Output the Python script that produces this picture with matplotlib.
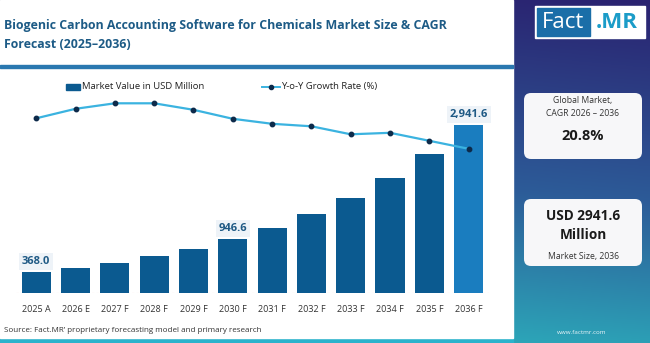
import numpy as np
import matplotlib.pyplot as plt
from matplotlib.patches import Rectangle, FancyBboxPatch
from matplotlib.colors import to_rgb

years = ["2025 A", "2026 E", "2027 F", "2028 F", "2029 F", "2030 F",
         "2031 F", "2032 F", "2033 F", "2034 F", "2035 F", "2036 F"]
market_value = [368.0, 431.0, 520.0, 641.0, 771.0, 946.6,
                1138.0, 1378.0, 1664.0, 2014.0, 2439.0, 2941.6]
yoy_growth = [19.0, 20.9, 22.0, 22.0, 20.7, 18.9,
              17.9, 17.4, 15.8, 16.1, 14.5, 12.9]
labelled = {0: "368.0", 5: "946.6", 11: "2,941.6"}

W, H = 650, 343
FONT = "Open Sans"
BAR = "#0b5a90"
BAR_LAST = "#1a7dbf"
LINE = "#3bb3e0"
MARK = "#0d2a4a"
TITLE_C = "#1d5b86"

fig = plt.figure(figsize=(W / 100, H / 100), dpi=100)

# background in pixel coordinates
bg = fig.add_axes([0, 0, 1, 1])
bg.set_xlim(0, W)
bg.set_ylim(H, 0)
bg.axis("off")

# gradient: navy/purple at top, teal at bottom
ny, nx = 200, 200
yy, xx = np.mgrid[0:1:ny * 1j, 0:1:nx * 1j]
t = np.clip(0.85 * yy + 0.15 * (1 - xx), 0, 1)
top = np.array(to_rgb("#2a2270"))
mid = np.array(to_rgb("#2d5b98"))
bot = np.array(to_rgb("#2cbcc2"))
t3 = t[..., None]
img = np.where(t3 < 0.5, top + (mid - top) * (t3 / 0.5),
               mid + (bot - mid) * ((t3 - 0.5) / 0.5))
bg.imshow(img, extent=(0, W, H, 0), aspect="auto", zorder=0)
bg.add_patch(Rectangle((0, 338), 513, 5, color="#2bb3cc", zorder=1))

# white main panel
bg.add_patch(Rectangle((0, 0), 513, 338, color="white", zorder=1))
bg.add_patch(Rectangle((0, 64.5), 513, 3, color="#2a78b0", zorder=2))

fig.text(4 / W, 1 - 25 / H, "Biogenic Carbon Accounting Software for Chemicals Market Size & CAGR",
         fontsize=8.9, fontweight="bold", color=TITLE_C, family=FONT, va="center")
fig.text(4 / W, 1 - 44 / H, "Forecast (2025\u20132036)",
         fontsize=8.9, fontweight="bold", color=TITLE_C, family=FONT, va="center")

fig.text(4 / W, 1 - 330 / H,
         "Source: Fact.MR\u2019 proprietary forecasting model and primary research",
         fontsize=5.8, color="#333333", family=FONT, va="center")

# logo
bg.add_patch(Rectangle((535, 6), 110, 32, color="white", zorder=3))
bg.add_patch(Rectangle((537, 8), 53, 28, color="#1a6ea8", zorder=4))
bg.text(563.5, 22.5, "Fact", color="white", fontsize=16, family=FONT,
        ha="center", va="center", zorder=5)
bg.text(617, 22.5, ".MR", color="#1b9cc8", fontsize=16, family=FONT,
        fontweight="bold", ha="center", va="center", zorder=5)

# info cards
for y0, y1 in [(93, 159), (199, 266)]:
    bg.add_patch(FancyBboxPatch((524, y0), 118, y1 - y0,
                                boxstyle="round,pad=0,rounding_size=7",
                                fc="#f7f7f9", ec="none", zorder=3))
cx = 583
bg.text(cx, 100, "Global Market,", fontsize=6.2, color="#333333", family=FONT,
        ha="center", va="center", zorder=4)
bg.text(cx, 113, "CAGR 2026 \u2013 2036", fontsize=6.2, color="#333333", family=FONT,
        ha="center", va="center", zorder=4)
bg.text(cx, 136, "20.8%", fontsize=10.5, fontweight="bold", color="#1a1a1a",
        family=FONT, ha="center", va="center", zorder=4)
bg.text(cx, 216, "USD 2941.6", fontsize=9.8, fontweight="bold", color="#1a1a1a",
        family=FONT, ha="center", va="center", zorder=4)
bg.text(cx, 235, "Million", fontsize=9.8, fontweight="bold", color="#1a1a1a",
        family=FONT, ha="center", va="center", zorder=4)
bg.text(cx, 257, "Market Size, 2036", fontsize=6.2, color="#333333", family=FONT,
        ha="center", va="center", zorder=4)
bg.text(582, 332, "www.factmr.com", fontsize=4.5, color="#e8f4f8", family=FONT,
        ha="center", va="center", zorder=4)

# chart axes (pixel box 16..489 x 75..293)
ax_l, ax_r, ax_t, ax_b = 16, 489, 75, 293
ax = fig.add_axes([ax_l / W, 1 - ax_b / H, (ax_r - ax_l) / W, (ax_b - ax_t) / H])
ax.patch.set_alpha(0)
x = np.arange(len(years))
colors = [BAR] * (len(years) - 1) + [BAR_LAST]
ax.bar(x, market_value, width=0.74, color=colors, zorder=3)
ax.set_xlim(-0.514, 11.517)
ax.set_ylim(0, 2941.6 * (ax_b - ax_t) / 168)
ax.axhline(0, color="#f0c8b8", lw=0.8, ls=(0, (2, 2)), zorder=2)
ax.set_xticks(x)
ax.set_xticklabels(years, fontsize=6.5, color="#333333", family=FONT)
ax.tick_params(axis="x", length=0, pad=9)
ax.set_yticks([])
for s in ax.spines.values():
    s.set_visible(False)

for i, txt in labelled.items():
    ax.text(x[i], market_value[i] + 90, txt, ha="center", va="bottom",
            fontsize=8, fontweight="bold", color="#1f5a85", family=FONT, zorder=4,
            bbox=dict(boxstyle="square,pad=0.25", fc="#eef3f8", ec="none"))

ax2 = ax.twinx()
ax2.patch.set_alpha(0)
ax2.plot(x, yoy_growth, color=LINE, lw=1.6, zorder=5,
         marker="o", ms=3.2, mfc=MARK, mec=MARK)
ax2.set_ylim(22 - (ax_b - 103.3) / 5, 22 + (103.3 - ax_t) / 5)
ax2.set_yticks([])
for s in ax2.spines.values():
    s.set_visible(False)

# legend drawn by hand
bg.add_patch(Rectangle((66, 83.5), 14, 6, color=BAR, zorder=6))
bg.text(82, 86.7, "Market Value in USD Million", fontsize=6.8, color="#222222",
        family=FONT, va="center", zorder=6)
bg.plot([262, 280], [86.7, 86.7], color=LINE, lw=1.4, zorder=6)
bg.plot([271], [86.7], "o", ms=3, color=MARK, zorder=7)
bg.text(281, 86.7, "Y-o-Y Growth Rate (%)", fontsize=6.8, color="#222222",
        family=FONT, va="center", zorder=6)

fig.savefig("out.png", dpi=100)
